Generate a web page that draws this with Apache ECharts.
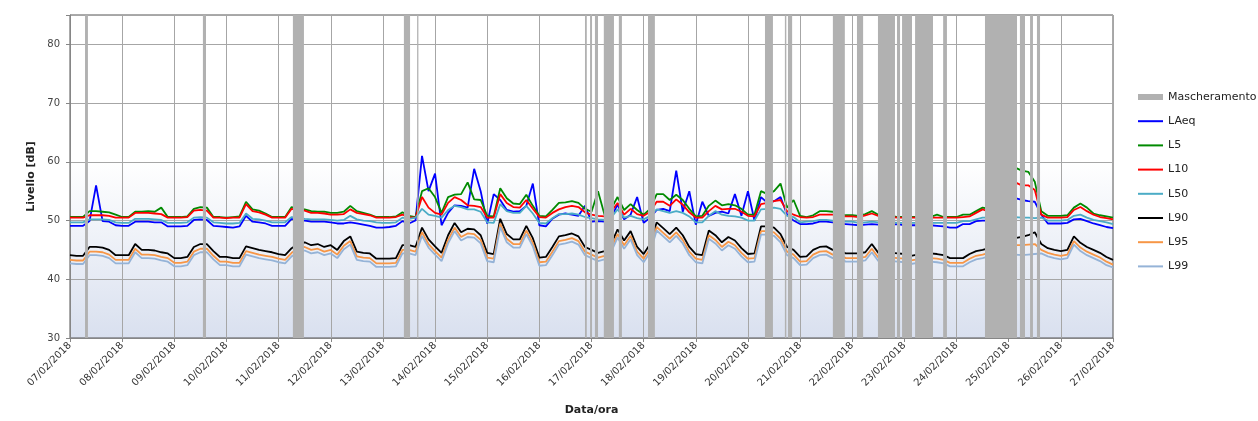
<!DOCTYPE html>
<html><head><meta charset="utf-8">
<script src="https://cdn.jsdelivr.net/npm/echarts@6/dist/echarts.min.js"></script>
<style>html,body{margin:0;padding:0;background:#fff}#c{width:1258px;height:421px}</style>
</head><body><div id="c"></div>
<script>
// Sampling: one value every 3 hours from 07/02/2018 00:00 to 27/02/2018 00:00
const START = '2018-02-07 00:00';
const STEP_HOURS = 3;
const X_MIN = '2018-02-07 00:00';
const X_MAX = '2018-02-27 00:00';
const Y_MIN = 30, Y_MAX = 85, Y_STEP = 10;
const seriesNames = ['LAeq','L5','L10','L50','L90','L95','L99'];
const seriesColors = ['#0000ff','#008a00','#ff0000','#4bacc6','#000000','#f79646','#95b3d7'];

const LAeq = [
49.1,49.1,49.1,49.9,56.0,49.9,49.8,49.2,
49.1,49.1,49.8,49.8,49.8,49.7,49.7,49.0,
49.0,49.0,49.1,50.1,50.2,50.1,49.1,49.0,
48.9,48.8,49.0,50.8,49.8,49.7,49.5,49.1,
49.1,49.1,50.3,50.0,50.0,49.8,49.8,49.8,
49.7,49.5,49.5,49.7,49.5,49.3,49.1,48.8,
48.8,48.9,49.1,49.9,49.5,50.0,61.0,55.0,
58.0,49.2,51.3,52.6,52.5,52.2,58.8,55.0,
49.5,54.5,53.5,51.8,51.5,51.6,52.5,56.3,
49.2,49.0,50.3,51.0,51.2,51.0,50.8,52.5,
49.8,49.9,49.8,50.5,52.7,50.2,51.0,54.0,
49.6,50.5,51.8,52.0,51.6,58.5,51.5,55.0,
49.3,53.2,50.8,51.3,51.5,51.2,54.5,50.8,
55.0,50.0,54.0,53.0,53.3,54.0,51.0,50.0,
49.4,49.4,49.5,49.8,49.8,49.7,49.5,49.4,
49.3,49.2,49.3,49.4,49.3,49.3,49.3,49.4,
49.2,49.2,49.2,49.2,49.2,49.1,49.0,48.8,
48.8,49.4,49.4,49.9,50.0,50.0,50.0,50.0,
52.0,53.8,53.5,53.3,53.2,51.0,49.5,49.5,
49.5,49.6,50.2,50.3,49.9,49.5,49.2,48.9,
48.7];
const L5 = [
50.6,50.6,50.6,51.6,51.6,51.5,51.4,51.0,
50.6,50.6,51.5,51.5,51.6,51.5,52.2,50.6,
50.6,50.6,50.7,52.0,52.3,52.2,50.6,50.6,
50.5,50.6,50.7,53.2,51.9,51.7,51.2,50.6,
50.6,50.6,52.3,52.0,51.9,51.6,51.5,51.5,
51.3,51.3,51.5,52.5,51.6,51.3,51.0,50.6,
50.6,50.6,50.7,51.4,50.8,50.6,55.0,55.5,
54.0,51.3,54.0,54.4,54.5,56.5,53.6,53.5,
50.8,50.7,55.5,53.8,52.9,52.8,54.4,52.5,
50.8,50.7,51.8,53.0,53.1,53.3,53.0,52.0,
51.5,55.0,51.0,52.0,54.0,51.8,52.8,51.8,
51.0,52.0,54.5,54.5,53.5,54.4,53.5,52.0,
50.7,50.8,52.5,53.4,52.6,52.8,52.6,52.0,
51.0,51.0,55.0,54.5,55.0,56.3,52.2,53.5,
50.8,50.6,50.9,51.6,51.6,51.5,51.2,50.9,
50.9,50.8,51.1,51.6,51.0,50.8,50.8,50.6,
50.6,50.6,50.6,50.6,50.6,51.0,50.6,50.6,
50.6,51.0,51.0,51.6,52.2,52.0,52.2,52.5,
55.0,59.0,58.5,58.3,56.6,51.6,50.8,50.8,
50.8,50.9,52.2,52.9,52.2,51.2,50.9,50.7,
50.5];
const L10 = [
50.5,50.5,50.5,50.9,50.9,50.9,50.8,50.5,
50.5,50.5,51.3,51.3,51.3,51.2,51.1,50.5,
50.5,50.5,50.6,51.7,51.8,51.7,50.5,50.5,
50.4,50.5,50.5,52.8,51.6,51.4,51.0,50.5,
50.5,50.5,52.0,51.8,51.7,51.3,51.3,51.2,
51.0,51.0,51.1,51.9,51.3,51.1,50.9,50.5,
50.5,50.5,50.6,51.0,50.6,50.5,54.0,52.2,
51.3,51.0,53.0,54.0,53.5,52.6,52.5,52.3,
50.5,50.5,54.5,53.0,52.3,52.2,53.5,52.0,
50.6,50.5,51.3,51.9,52.3,52.5,52.3,51.4,
51.0,50.8,50.7,51.5,53.0,51.0,52.0,51.1,
50.8,51.5,53.2,53.2,52.5,53.6,52.7,51.4,
50.5,50.5,51.6,52.5,51.9,52.0,52.0,51.5,
50.8,50.7,52.8,53.0,53.3,53.5,51.6,51.0,
50.6,50.5,50.6,51.0,51.0,51.0,50.8,50.7,
50.7,50.6,50.9,51.2,50.8,50.6,50.6,50.5,
50.5,50.5,50.5,50.5,50.5,50.5,50.5,50.5,
50.5,50.6,50.7,51.3,51.9,51.5,51.6,51.8,
53.0,56.5,56.0,56.0,55.2,51.0,50.5,50.5,
50.5,50.6,51.8,52.3,51.6,51.0,50.6,50.4,
50.2];
const L50 = [
49.7,49.7,49.7,50.2,50.2,50.2,50.1,49.7,
49.6,49.6,50.3,50.3,50.3,50.2,50.1,49.6,
49.6,49.6,49.7,50.5,50.6,50.5,49.7,49.6,
49.5,49.5,49.6,51.2,50.3,50.2,50.0,49.7,
49.7,49.7,50.6,50.5,50.3,50.2,50.2,50.2,
50.1,50.0,50.1,50.8,50.2,50.0,49.9,49.7,
49.6,49.6,49.7,50.5,50.3,50.5,52.0,51.0,
50.8,50.5,51.8,52.5,52.3,51.9,51.9,51.5,
49.7,49.6,52.8,51.6,51.3,51.3,52.5,51.2,
49.6,49.5,50.4,51.1,51.1,51.2,51.0,50.6,
50.4,50.2,50.1,50.5,51.9,50.5,50.8,50.4,
50.2,50.8,51.9,51.6,51.3,51.6,51.3,50.7,
49.7,49.7,50.8,51.6,51.0,50.8,50.7,50.5,
50.0,50.0,51.9,52.0,52.2,52.0,50.8,50.6,
49.7,49.8,49.9,50.1,50.1,50.0,49.9,49.8,
49.8,49.6,49.7,49.8,49.7,49.7,49.7,49.6,
49.6,49.6,49.6,49.6,49.6,49.6,49.6,49.6,
49.6,49.9,49.9,50.2,50.5,50.5,50.3,50.2,
50.5,50.6,50.5,50.5,50.4,50.5,50.0,50.0,
50.0,50.1,50.8,51.0,50.5,50.1,49.9,49.7,
49.4];
const L90 = [
44.1,44.0,44.0,45.5,45.5,45.4,45.0,44.1,
44.1,44.1,46.0,45.0,45.0,44.9,44.6,44.4,
43.6,43.6,43.8,45.5,46.0,46.0,44.8,43.8,
43.8,43.6,43.6,45.6,45.3,45.0,44.8,44.6,
44.3,44.1,45.3,46.0,46.3,45.8,46.0,45.5,
45.8,45.0,46.5,47.3,44.7,44.5,44.4,43.5,
43.5,43.5,43.6,45.8,45.8,45.5,48.8,46.8,
45.6,44.5,47.5,49.6,48.0,48.6,48.5,47.5,
44.5,44.3,50.3,47.7,46.8,46.8,49.1,47.0,
43.7,43.8,45.5,47.3,47.5,47.8,47.3,45.5,
45.0,44.5,44.8,46.0,48.5,46.6,48.2,45.5,
44.3,46.0,49.7,48.7,47.7,48.8,47.5,45.5,
44.3,44.1,48.3,47.5,46.3,47.2,46.6,45.3,
44.3,44.4,49.0,49.0,48.8,47.7,45.5,45.0,
43.8,43.9,45.0,45.5,45.6,45.0,45.0,44.4,
44.4,44.4,44.6,46.0,44.5,44.3,44.5,44.4,
44.3,44.0,44.2,44.4,44.4,44.3,44.1,43.6,
43.6,43.6,44.3,44.8,45.0,45.3,45.5,45.5,
46.0,47.0,47.2,47.5,48.0,46.0,45.3,45.0,
44.8,45.0,47.3,46.2,45.5,45.0,44.5,43.8,
43.3];
const L95 = [
43.3,43.2,43.2,44.7,44.7,44.6,44.2,43.3,
43.3,43.3,45.2,44.2,44.2,44.1,43.8,43.6,
42.8,42.8,43.0,44.7,45.2,45.2,44.0,43.0,
43.0,42.8,42.8,44.8,44.5,44.2,44.0,43.8,
43.5,43.3,44.5,45.2,45.5,45.0,45.2,44.7,
45.0,44.2,45.7,46.5,43.9,43.7,43.6,42.7,
42.7,42.7,42.8,45.0,45.0,44.7,48.0,46.0,
44.8,43.7,46.7,48.8,47.2,47.8,47.7,46.7,
43.7,43.5,49.5,46.9,46.0,46.0,48.3,46.2,
42.9,43.0,44.7,46.5,46.7,47.0,46.5,44.7,
44.2,43.7,44.0,45.2,47.7,45.8,47.4,44.7,
43.5,45.2,48.9,47.9,46.9,48.0,46.7,44.7,
43.5,43.3,47.5,46.7,45.5,46.4,45.8,44.5,
43.5,43.6,48.2,48.2,48.0,46.9,44.7,44.2,
43.0,43.1,44.2,44.7,44.8,44.2,44.2,43.6,
43.6,43.6,43.8,45.2,43.7,43.5,43.7,43.6,
43.5,43.2,43.4,43.6,43.6,43.5,43.3,42.8,
42.8,42.8,43.5,44.0,44.2,44.5,44.7,44.7,
45.2,45.8,45.8,45.9,46.0,45.0,44.5,44.2,
44.0,44.2,46.5,45.4,44.7,44.2,43.7,43.0,
42.5];
const L99 = [
42.7,42.6,42.6,44.1,44.1,44.0,43.6,42.7,
42.7,42.7,44.6,43.6,43.6,43.5,43.2,43.0,
42.2,42.2,42.4,44.1,44.6,44.6,43.4,42.4,
42.4,42.2,42.2,44.2,43.9,43.6,43.4,43.2,
42.9,42.7,43.9,44.6,44.9,44.4,44.6,44.1,
44.4,43.6,45.1,45.9,43.3,43.1,43.0,42.1,
42.1,42.1,42.2,44.4,44.4,44.1,47.4,45.4,
44.2,43.1,46.1,48.2,46.6,47.2,47.1,46.1,
43.1,42.9,48.9,46.3,45.4,45.4,47.7,45.6,
42.3,42.4,44.1,45.9,46.1,46.4,45.9,44.1,
43.6,43.1,43.4,44.6,47.1,45.2,46.8,44.1,
42.9,44.6,48.3,47.3,46.3,47.4,46.1,44.1,
42.9,42.7,46.9,46.1,44.9,45.8,45.2,43.9,
42.9,43.0,47.6,47.6,47.4,46.3,44.1,43.6,
42.4,42.5,43.6,44.1,44.2,43.6,43.6,43.0,
43.0,43.0,43.2,44.6,43.1,42.9,43.1,43.0,
42.9,42.6,42.8,43.0,43.0,42.9,42.7,42.2,
42.2,42.2,42.9,43.4,43.6,43.9,44.1,44.1,
44.3,44.2,44.1,44.2,44.3,44.4,43.9,43.6,
43.4,43.6,45.9,44.8,44.1,43.6,43.1,42.4,
42.0];

// Masking periods (start, end)
const maskPeriods = [
['2018-02-07 06:55','2018-02-07 08:15'],
['2018-02-09 13:10','2018-02-09 14:35'],
['2018-02-11 06:35','2018-02-11 11:40'],
['2018-02-13 09:40','2018-02-13 12:30'],
['2018-02-13 15:45','2018-02-13 16:20'],
['2018-02-16 21:00','2018-02-16 21:50'],
['2018-02-16 23:20','2018-02-17 00:15'],
['2018-02-17 01:35','2018-02-17 03:00'],
['2018-02-17 05:40','2018-02-17 10:20'],
['2018-02-17 12:35','2018-02-17 14:00'],
['2018-02-18 02:00','2018-02-18 05:10'],
['2018-02-20 07:50','2018-02-20 11:30'],
['2018-02-20 17:00','2018-02-20 17:40'],
['2018-02-20 18:25','2018-02-20 20:20'],
['2018-02-21 15:05','2018-02-21 20:35'],
['2018-02-22 02:10','2018-02-22 05:00'],
['2018-02-22 11:50','2018-02-22 19:40'],
['2018-02-22 20:35','2018-02-22 22:00'],
['2018-02-22 22:55','2018-02-23 03:30'],
['2018-02-23 04:55','2018-02-23 13:10'],
['2018-02-23 17:50','2018-02-23 19:35'],
['2018-02-24 13:05','2018-02-25 03:50'],
['2018-02-25 05:10','2018-02-25 07:30'],
['2018-02-25 09:50','2018-02-25 11:10'],
['2018-02-25 13:00','2018-02-25 14:25']
];

function toMs(s){
  const m = s.match(/(\d+)-(\d+)-(\d+) (\d+):(\d+)/);
  return Date.UTC(+m[1], +m[2]-1, +m[3], +m[4], +m[5]);
}
const DAY = 86400000;
const t0 = toMs(START);
const seriesValues = [LAeq, L5, L10, L50, L90, L95, L99];
function pad(n){return (n<10?'0':'')+n;}

const FONT = 'DejaVu Sans';
const LINE_ICON = 'path://M0,0H25V2H0Z';
const chart = echarts.init(document.getElementById('c'), null, {renderer:'canvas'});

const lineSeries = seriesNames.map(function(name, i){
  return {
    name: name, type: 'line', symbol: 'none', showSymbol: false, z: 2 + i*0.01,
    lineStyle: {width: 1.8, color: seriesColors[i]},
    itemStyle: {color: seriesColors[i]},
    data: seriesValues[i].map(function(v, k){ return [t0 + k*STEP_HOURS*3600000, v]; }),
    animation: false
  };
});

const maskSeries = {
  name: 'Mascheramento', type: 'custom', z: 5,
  itemStyle: {color: '#b1b1b1'},
  encode: {x: [0, 1], y: [2, 3]},
  data: maskPeriods.map(function(p){ return [toMs(p[0]), toMs(p[1]), Y_MAX, Y_MIN]; }),
  renderItem: function(params, api){
    const a = api.coord([api.value(0), api.value(2)]);
    const b = api.coord([api.value(1), api.value(3)]);
    return {type:'rect', shape:{x:a[0], y:a[1], width:Math.max(b[0]-a[0],1), height:b[1]-a[1]},
            style:{fill:'#b1b1b1'}};
  },
  animation: false
};

chart.setOption({
  animation: false,
  backgroundColor: '#ffffff',
  grid: {
    left: 70, right: 145, top: 15, bottom: 78, show: true,
    borderColor: '#555555', borderWidth: 1,
    backgroundColor: {type:'linear', x:0, y:0, x2:0, y2:1,
      colorStops:[{offset:0,color:'#ffffff'},{offset:0.45,color:'#ffffff'},{offset:1,color:'#d9e0ef'}]}
  },
  legend: {
    orient: 'vertical', left: 1138, top: 91, itemWidth: 25, itemHeight: 6, itemGap: 12.2,
    padding: 0, symbolKeepAspect: true,
    textStyle: {fontFamily: FONT, fontSize: 11, color: '#222', lineHeight: 12},
    data: [{name:'Mascheramento', icon:'rect'}].concat(seriesNames.map(function(n){ return {name:n, icon: LINE_ICON}; }))
  },
  xAxis: {
    type: 'value', min: toMs(X_MIN), max: toMs(X_MAX), interval: DAY,
    name: 'Data/ora', nameLocation: 'middle', nameGap: 67,
    nameTextStyle: {fontFamily: FONT, fontSize: 11, fontWeight: 'bold', color: '#222'},
    axisLine: {lineStyle: {color: '#868686'}},
    axisTick: {show: true, length: 4, lineStyle: {color: '#868686'}},
    axisLabel: {rotate: 45, fontFamily: FONT, fontSize: 10, color: '#333', margin: 6,
      formatter: function(v){ const d = new Date(v); return pad(d.getUTCDate())+'/'+pad(d.getUTCMonth()+1)+'/'+d.getUTCFullYear(); }},
    splitLine: {show: true, lineStyle: {color: '#a6a6a6', width: 1}}
  },
  yAxis: {
    type: 'value', min: Y_MIN, max: Y_MAX, interval: Y_STEP,
    name: 'Livello [dB]', nameLocation: 'middle', nameGap: 33, nameRotate: 90,
    nameTextStyle: {fontFamily: FONT, fontSize: 11, fontWeight: 'bold', color: '#222'},
    axisLine: {show: true, lineStyle: {color: '#868686'}},
    axisTick: {show: true, length: 4, lineStyle: {color: '#868686'}},
    axisLabel: {fontFamily: FONT, fontSize: 10, color: '#444', margin: 10,
      formatter: function(v){ return v > 80 ? '' : String(v); }},
    splitLine: {show: true, lineStyle: {color: '#a6a6a6', width: 1}}
  },
  series: lineSeries.concat([maskSeries])
});
</script>
</body></html>
